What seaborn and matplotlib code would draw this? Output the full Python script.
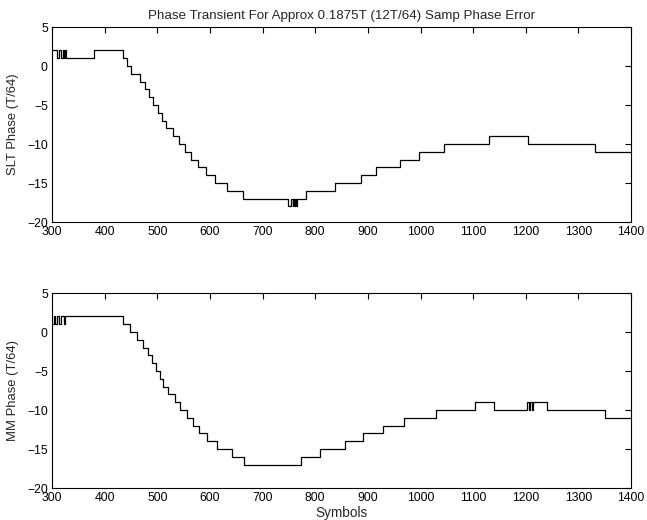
import matplotlib
matplotlib.use("Agg")
import matplotlib.pyplot as plt
import seaborn as sns
import pandas as pd

TITLE = "Phase Transient For Approx 0.1875T (12T/64) Samp Phase Error"

# symbol index where the phase changes, and the level it takes from there on
slt_symbols = [300, 310, 313, 318, 320, 322, 324, 327, 379, 434, 443, 450,
               468, 477, 485, 491, 501, 508, 517, 529, 541, 553, 564, 578,
               592, 610, 632, 662, 749, 754, 757, 758, 760, 762, 763, 766,
               783, 838, 886, 915, 961, 997, 1045, 1130, 1204, 1331, 1400]
slt_phase = [2, 1, 2, 1, 2, 1, 2, 1, 2, 1, 0, -1,
             -2, -3, -4, -5, -6, -7, -8, -9, -10, -11, -12, -13,
             -14, -15, -16, -17, -18, -17, -18, -17, -18, -17, -18, -17,
             -16, -15, -14, -13, -12, -11, -10, -9, -10, -11, -11]

mm_symbols = [300, 303, 306, 310, 314, 318, 322, 325, 435, 448, 461, 473,
              483, 489, 497, 505, 511, 521, 534, 544, 556, 567, 580, 595,
              613, 641, 665, 773, 810, 857, 891, 929, 969, 1030, 1104, 1140,
              1203, 1206, 1208, 1211, 1213, 1240, 1350, 1400]
mm_phase = [1, 2, 1, 2, 1, 2, 1, 2, 1, 0, -1, -2,
            -3, -4, -5, -6, -7, -8, -9, -10, -11, -12, -13, -14,
            -15, -16, -17, -16, -15, -14, -13, -12, -11, -10, -9, -10,
            -9, -10, -9, -10, -9, -10, -11, -11]

x_ticks = list(range(300, 1401, 100))
y_ticks = [-20, -15, -10, -5, 0, 5]

sns.set_style("white")
plt.rcParams['font.family'] = ['Liberation Sans', 'DejaVu Sans']
plt.rcParams['font.size'] = 9

fig = plt.figure(figsize=(6.47, 5.20), dpi=100)
ax_top = fig.add_axes([0.0804, 0.573, 0.895, 0.375])
ax_bot = fig.add_axes([0.0804, 0.0615, 0.895, 0.375])

panels = [(ax_top, slt_symbols, slt_phase, "SLT Phase (T/64)"),
          (ax_bot, mm_symbols, mm_phase, "MM Phase (T/64)")]

for ax, xs, ys, label in panels:
    df = pd.DataFrame({"symbol": xs, "phase": ys})
    sns.lineplot(data=df, x="symbol", y="phase", ax=ax, color="black",
                 linewidth=0.9, drawstyle="steps-post", estimator=None,
                 sort=False)
    ax.set_xlim(300, 1400)
    ax.set_ylim(-20, 5)
    ax.set_xticks(x_ticks)
    ax.set_yticks(y_ticks)
    ax.tick_params(direction="in", top=True, right=True, length=4,
                   width=0.8, labelsize=8.8, colors="black", pad=3)
    for spine in ax.spines.values():
        spine.set_visible(True)
        spine.set_color("black")
        spine.set_linewidth(0.8)
    ax.set_ylabel(label, fontsize=9.4, labelpad=6)
    ax.set_xlabel("")

ax_top.set_title(TITLE, fontsize=9.6, pad=6)
ax_bot.set_xlabel("Symbols", fontsize=9.8, labelpad=1)

fig.savefig("out.png", dpi=100)
